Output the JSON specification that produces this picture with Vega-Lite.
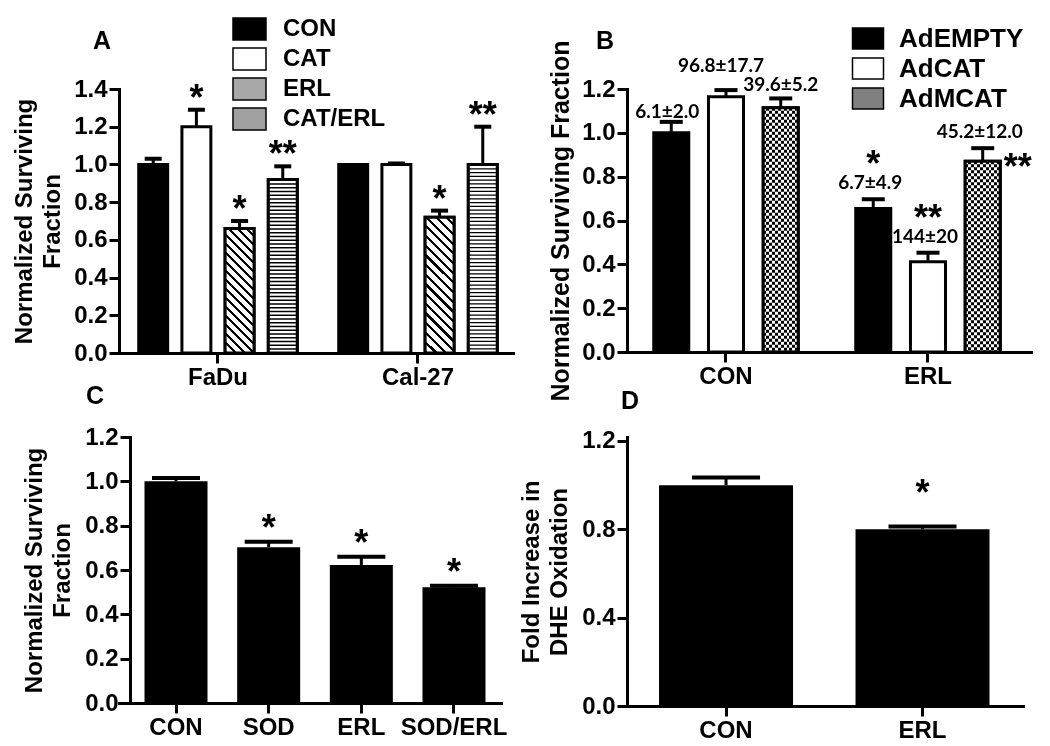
{
 "$schema": "https://vega.github.io/schema/vega-lite/v6.json",
 "background": "white",
 "padding": {"left": 12, "top": 17, "right": 5, "bottom": 2},
 "columns": 2,
 "spacing": {"row": 84, "column": 114},
 "bounds": "flush",
 "resolve": {"scale": {"fill": "independent", "xOffset": "independent", "color": "independent"}, "legend": {"fill": "independent"}},
 "config": {
  "view": {"stroke": null},
  "font": "Liberation Sans",
  "axis": {"domainColor": "#000", "domainWidth": 3, "domainCap": "square", "tickColor": "#000", "tickWidth": 3, "tickSize": 10, "labelFont": "Liberation Sans", "labelFontSize": 24, "labelFontWeight": "bold", "labelColor": "#000", "labelPadding": 2, "titleFont": "Liberation Sans", "titleFontSize": 24, "titleFontWeight": "bold", "titleColor": "#000", "grid": false, "labelOverlap": false, "labelFlush": false},
  "title": {"font": "Liberation Sans", "fontSize": 25, "fontWeight": "bold", "color": "#000", "anchor": "start", "frame": "group", "baseline": "alphabetic"}
 },
 "datasets": {
  "pa": [
   {"cell": "FaDu", "trt": "CON", "v": 1.0, "e": 1.03, "star": ""},
   {"cell": "FaDu", "trt": "CAT", "v": 1.2, "e": 1.29, "star": "*"},
   {"cell": "FaDu", "trt": "ERL", "v": 0.66, "e": 0.70, "star": "*"},
   {"cell": "FaDu", "trt": "CAT/ERL", "v": 0.92, "e": 0.99, "star": "**"},
   {"cell": "Cal-27", "trt": "CON", "v": 1.0, "e": 1.0, "star": ""},
   {"cell": "Cal-27", "trt": "CAT", "v": 1.0, "e": 1.005, "star": ""},
   {"cell": "Cal-27", "trt": "ERL", "v": 0.72, "e": 0.755, "star": "*"},
   {"cell": "Cal-27", "trt": "CAT/ERL", "v": 1.0, "e": 1.2, "star": "**"}
  ],
  "pb": [
   {"grp": "CON", "vec": "AdEMPTY", "v": 1.0, "e": 1.05, "lab": "6.1±2.0", "star": ""},
   {"grp": "CON", "vec": "AdCAT", "v": 1.165, "e": 1.195, "lab": "96.8±17.7", "star": ""},
   {"grp": "CON", "vec": "AdMCAT", "v": 1.115, "e": 1.157, "lab": "39.6±5.2", "star": ""},
   {"grp": "ERL", "vec": "AdEMPTY", "v": 0.655, "e": 0.697, "lab": "6.7±4.9", "star": "*"},
   {"grp": "ERL", "vec": "AdCAT", "v": 0.412, "e": 0.453, "lab": "144±20", "star": "**"},
   {"grp": "ERL", "vec": "AdMCAT", "v": 0.87, "e": 0.93, "lab": "45.2±12.0", "star": "**"}
  ],
  "pc": [
   {"t": "CON", "v": 1.0, "e": 1.015, "star": ""},
   {"t": "SOD", "v": 0.703, "e": 0.727, "star": "*"},
   {"t": "ERL", "v": 0.622, "e": 0.66, "star": "*"},
   {"t": "SOD/ERL", "v": 0.522, "e": 0.529, "star": "*"}
  ],
  "pd": [
   {"t": "CON", "v": 1.0, "e": 1.035, "star": ""},
   {"t": "ERL", "v": 0.8, "e": 0.813, "star": "*"}
  ]
 },
 "concat": [
  {
   "width": 394, "height": 264,
   "title": {"text": "A", "dx": -26, "offset": -37},
   "data": {"name": "pa"},
   "encoding": {
    "x": {"field": "cell", "type": "nominal", "scale": {"domain": ["FaDu", "Cal-27"], "paddingInner": 0.2075, "paddingOuter": 0.08875, "align": 0.556}, "axis": {"title": null, "labelAngle": 0}},
    "xOffset": {"field": "trt", "type": "nominal", "scale": {"domain": ["CON", "CAT", "ERL", "CAT/ERL"], "paddingInner": 0.33, "paddingOuter": 0}},
    "y": {"field": "v", "type": "quantitative", "stack": null, "scale": {"domain": [0, 1.4], "nice": false}, "axis": {"values": [0, 0.2, 0.4, 0.6, 0.8, 1, 1.2, 1.4], "format": ".1f", "title": ["Normalized Surviving", "Fraction"], "titleLineHeight": 28, "titlePadding": 9}}
   },
   "layer": [
    {"mark": {"type": "bar", "stroke": "#000", "strokeWidth": 3},
     "encoding": {"fill": {"field": "trt", "type": "nominal", "scale": {"domain": ["CON", "CAT", "ERL", "CAT/ERL"], "range": ["#000", "#fff", "#a8a8a8", "#a0a0a0"]},
       "legend": {"orient": "none", "legendX": 118.5, "legendY": -72, "title": null, "symbolType": "M-1.5,-1H1.5V1H-1.5Z", "symbolSize": 484, "labelFont": "Liberation Sans", "labelFontSize": 24, "labelFontWeight": "bold", "labelColor": "#000", "labelOffset": 21.5, "rowPadding": 2, "padding": 0, "labelLimit": 300}}}},
    {"transform": [{"filter": "datum.trt === 'CAT/ERL'"}],
     "mark": {"type": "bar", "strokeWidth": 0, "fill": "#fff"}},
    {"transform": [{"filter": "datum.trt === 'ERL' && datum.cell === 'FaDu'"}],
     "mark": {"type": "bar", "strokeWidth": 0, "fill": {"gradient": "linear", "x1": 0, "y1": 1, "x2": 0.2711, "y2": -0.169, "stops": [
      {"offset": 0, "color": "#000"}, {"offset": 0.0194, "color": "#000"}, {"offset": 0.0194, "color": "#fff"}, {"offset": 0.0588, "color": "#fff"},
      {"offset": 0.0588, "color": "#000"}, {"offset": 0.0782, "color": "#000"}, {"offset": 0.0782, "color": "#fff"}, {"offset": 0.1176, "color": "#fff"},
      {"offset": 0.1176, "color": "#000"}, {"offset": 0.1371, "color": "#000"}, {"offset": 0.1371, "color": "#fff"}, {"offset": 0.1765, "color": "#fff"},
      {"offset": 0.1765, "color": "#000"}, {"offset": 0.1959, "color": "#000"}, {"offset": 0.1959, "color": "#fff"}, {"offset": 0.2353, "color": "#fff"},
      {"offset": 0.2353, "color": "#000"}, {"offset": 0.2547, "color": "#000"}, {"offset": 0.2547, "color": "#fff"}, {"offset": 0.2941, "color": "#fff"},
      {"offset": 0.2941, "color": "#000"}, {"offset": 0.3135, "color": "#000"}, {"offset": 0.3135, "color": "#fff"}, {"offset": 0.3529, "color": "#fff"},
      {"offset": 0.3529, "color": "#000"}, {"offset": 0.3724, "color": "#000"}, {"offset": 0.3724, "color": "#fff"}, {"offset": 0.4118, "color": "#fff"},
      {"offset": 0.4118, "color": "#000"}, {"offset": 0.4312, "color": "#000"}, {"offset": 0.4312, "color": "#fff"}, {"offset": 0.4706, "color": "#fff"},
      {"offset": 0.4706, "color": "#000"}, {"offset": 0.49, "color": "#000"}, {"offset": 0.49, "color": "#fff"}, {"offset": 0.5294, "color": "#fff"},
      {"offset": 0.5294, "color": "#000"}, {"offset": 0.5488, "color": "#000"}, {"offset": 0.5488, "color": "#fff"}, {"offset": 0.5882, "color": "#fff"},
      {"offset": 0.5882, "color": "#000"}, {"offset": 0.6076, "color": "#000"}, {"offset": 0.6076, "color": "#fff"}, {"offset": 0.6471, "color": "#fff"},
      {"offset": 0.6471, "color": "#000"}, {"offset": 0.6665, "color": "#000"}, {"offset": 0.6665, "color": "#fff"}, {"offset": 0.7059, "color": "#fff"},
      {"offset": 0.7059, "color": "#000"}, {"offset": 0.7253, "color": "#000"}, {"offset": 0.7253, "color": "#fff"}, {"offset": 0.7647, "color": "#fff"},
      {"offset": 0.7647, "color": "#000"}, {"offset": 0.7841, "color": "#000"}, {"offset": 0.7841, "color": "#fff"}, {"offset": 0.8235, "color": "#fff"},
      {"offset": 0.8235, "color": "#000"}, {"offset": 0.8429, "color": "#000"}, {"offset": 0.8429, "color": "#fff"}, {"offset": 0.8824, "color": "#fff"},
      {"offset": 0.8824, "color": "#000"}, {"offset": 0.9018, "color": "#000"}, {"offset": 0.9018, "color": "#fff"}, {"offset": 0.9412, "color": "#fff"},
      {"offset": 0.9412, "color": "#000"}, {"offset": 0.9606, "color": "#000"}, {"offset": 0.9606, "color": "#fff"}, {"offset": 1, "color": "#fff"}]}}},
    {"transform": [{"filter": "datum.trt === 'ERL' && datum.cell === 'Cal-27'"}],
     "mark": {"type": "bar", "strokeWidth": 0, "fill": {"gradient": "linear", "x1": 0, "y1": 1, "x2": 0.2469, "y2": -0.1603, "stops": [
      {"offset": 0, "color": "#000"}, {"offset": 0.0194, "color": "#000"}, {"offset": 0.0194, "color": "#fff"}, {"offset": 0.0588, "color": "#fff"},
      {"offset": 0.0588, "color": "#000"}, {"offset": 0.0782, "color": "#000"}, {"offset": 0.0782, "color": "#fff"}, {"offset": 0.1176, "color": "#fff"},
      {"offset": 0.1176, "color": "#000"}, {"offset": 0.1371, "color": "#000"}, {"offset": 0.1371, "color": "#fff"}, {"offset": 0.1765, "color": "#fff"},
      {"offset": 0.1765, "color": "#000"}, {"offset": 0.1959, "color": "#000"}, {"offset": 0.1959, "color": "#fff"}, {"offset": 0.2353, "color": "#fff"},
      {"offset": 0.2353, "color": "#000"}, {"offset": 0.2547, "color": "#000"}, {"offset": 0.2547, "color": "#fff"}, {"offset": 0.2941, "color": "#fff"},
      {"offset": 0.2941, "color": "#000"}, {"offset": 0.3135, "color": "#000"}, {"offset": 0.3135, "color": "#fff"}, {"offset": 0.3529, "color": "#fff"},
      {"offset": 0.3529, "color": "#000"}, {"offset": 0.3724, "color": "#000"}, {"offset": 0.3724, "color": "#fff"}, {"offset": 0.4118, "color": "#fff"},
      {"offset": 0.4118, "color": "#000"}, {"offset": 0.4312, "color": "#000"}, {"offset": 0.4312, "color": "#fff"}, {"offset": 0.4706, "color": "#fff"},
      {"offset": 0.4706, "color": "#000"}, {"offset": 0.49, "color": "#000"}, {"offset": 0.49, "color": "#fff"}, {"offset": 0.5294, "color": "#fff"},
      {"offset": 0.5294, "color": "#000"}, {"offset": 0.5488, "color": "#000"}, {"offset": 0.5488, "color": "#fff"}, {"offset": 0.5882, "color": "#fff"},
      {"offset": 0.5882, "color": "#000"}, {"offset": 0.6076, "color": "#000"}, {"offset": 0.6076, "color": "#fff"}, {"offset": 0.6471, "color": "#fff"},
      {"offset": 0.6471, "color": "#000"}, {"offset": 0.6665, "color": "#000"}, {"offset": 0.6665, "color": "#fff"}, {"offset": 0.7059, "color": "#fff"},
      {"offset": 0.7059, "color": "#000"}, {"offset": 0.7253, "color": "#000"}, {"offset": 0.7253, "color": "#fff"}, {"offset": 0.7647, "color": "#fff"},
      {"offset": 0.7647, "color": "#000"}, {"offset": 0.7841, "color": "#000"}, {"offset": 0.7841, "color": "#fff"}, {"offset": 0.8235, "color": "#fff"},
      {"offset": 0.8235, "color": "#000"}, {"offset": 0.8429, "color": "#000"}, {"offset": 0.8429, "color": "#fff"}, {"offset": 0.8824, "color": "#fff"},
      {"offset": 0.8824, "color": "#000"}, {"offset": 0.9018, "color": "#000"}, {"offset": 0.9018, "color": "#fff"}, {"offset": 0.9412, "color": "#fff"},
      {"offset": 0.9412, "color": "#000"}, {"offset": 0.9606, "color": "#000"}, {"offset": 0.9606, "color": "#fff"}, {"offset": 1, "color": "#fff"}]}}},
    {"transform": [{"filter": "datum.trt === 'CAT/ERL'"}],
     "mark": {"type": "rule", "color": "#000", "strokeWidth": 29, "strokeDash": [1.4, 2.35]},
     "encoding": {"y2": {"datum": 0}}},
    {"transform": [{"filter": "datum.trt === 'ERL' || datum.trt === 'CAT/ERL'"}],
     "mark": {"type": "bar", "fill": "transparent", "stroke": "#000", "strokeWidth": 3}},
    {"transform": [{"filter": "datum.e > datum.v"}],
     "mark": {"type": "rule", "color": "#000", "strokeWidth": 3},
     "encoding": {"y2": {"field": "e"}}},
    {"transform": [{"filter": "datum.e > datum.v"}],
     "mark": {"type": "tick", "color": "#000", "thickness": 4, "size": 17, "orient": "horizontal", "opacity": 1},
     "encoding": {"y": {"field": "e", "type": "quantitative"}}},
    {"transform": [{"filter": "datum.star !== ''"}],
     "mark": {"type": "text", "font": "Liberation Sans", "fontSize": 36, "fontWeight": "bold", "baseline": "alphabetic", "color": "#000", "dy": 0},
     "encoding": {"y": {"field": "e", "type": "quantitative"}, "text": {"field": "star"}}}
   ]
  },
  {
   "width": 404, "height": 263,
   "title": {"text": "B", "dx": -31, "offset": -28.5},
   "data": {"name": "pb"},
   "encoding": {
    "x": {"field": "grp", "type": "nominal", "scale": {"domain": ["CON", "ERL"], "paddingInner": 0.2847, "paddingOuter": 0.1424, "align": 0.465}, "axis": {"title": null, "labelAngle": 0}},
    "xOffset": {"field": "vec", "type": "nominal", "scale": {"domain": ["AdEMPTY", "AdCAT", "AdMCAT"], "paddingInner": 0.36, "paddingOuter": 0}},
    "y": {"field": "v", "type": "quantitative", "stack": null, "scale": {"domain": [0, 1.2], "nice": false}, "axis": {"values": [0, 0.2, 0.4, 0.6, 0.8, 1, 1.2], "format": ".1f", "title": "Normalized Surviving Fraction", "titleFontSize": 25, "titlePadding": 8}}
   },
   "layer": [
    {"mark": {"type": "bar", "stroke": "#000", "strokeWidth": 3},
     "encoding": {"fill": {"field": "vec", "type": "nominal", "scale": {"domain": ["AdEMPTY", "AdCAT", "AdMCAT"], "range": ["#000", "#fff", "#808080"]},
       "legend": {"orient": "none", "legendX": 228, "legendY": -63.5, "title": null, "symbolType": "M-1.476,-1H1.476V1H-1.476Z", "symbolSize": 441, "labelFont": "Liberation Sans", "labelFontSize": 26, "labelFontWeight": "bold", "labelColor": "#000", "labelOffset": 18, "rowPadding": 2, "padding": 0, "labelLimit": 300}}}},
    {"transform": [{"filter": "datum.vec === 'AdMCAT'"}],
     "mark": {"type": "bar", "strokeWidth": 0, "fill": {"gradient": "linear", "x1": 0, "y1": 0, "x2": 1, "y2": 0, "stops": [
      {"offset": 0, "color": "#000"}, {"offset": 0.0833, "color": "#000"}, {"offset": 0.0833, "color": "#fff"}, {"offset": 0.1667, "color": "#fff"},
      {"offset": 0.1667, "color": "#000"}, {"offset": 0.25, "color": "#000"}, {"offset": 0.25, "color": "#fff"}, {"offset": 0.3333, "color": "#fff"},
      {"offset": 0.3333, "color": "#000"}, {"offset": 0.4167, "color": "#000"}, {"offset": 0.4167, "color": "#fff"}, {"offset": 0.5, "color": "#fff"},
      {"offset": 0.5, "color": "#000"}, {"offset": 0.5833, "color": "#000"}, {"offset": 0.5833, "color": "#fff"}, {"offset": 0.6667, "color": "#fff"},
      {"offset": 0.6667, "color": "#000"}, {"offset": 0.75, "color": "#000"}, {"offset": 0.75, "color": "#fff"}, {"offset": 0.8333, "color": "#fff"},
      {"offset": 0.8333, "color": "#000"}, {"offset": 0.9167, "color": "#000"}, {"offset": 0.9167, "color": "#fff"}, {"offset": 1, "color": "#fff"}]}}},
    {"transform": [{"filter": "datum.vec === 'AdMCAT'"}],
     "mark": {"type": "rule", "color": "#fff", "strokeWidth": 35, "strokeDash": [3, 3], "blend": "difference"},
     "encoding": {"y2": {"datum": 0}}},
    {"transform": [{"filter": "datum.vec === 'AdMCAT'"}],
     "mark": {"type": "bar", "fill": "transparent", "stroke": "#000", "strokeWidth": 3}},
    {"transform": [{"filter": "datum.e > datum.v"}],
     "mark": {"type": "rule", "color": "#000", "strokeWidth": 3},
     "encoding": {"y2": {"field": "e"}}},
    {"transform": [{"filter": "datum.e > datum.v"}],
     "mark": {"type": "tick", "color": "#000", "thickness": 4, "size": 23, "orient": "horizontal", "opacity": 1},
     "encoding": {"y": {"field": "e", "type": "quantitative"}}},
    {"transform": [{"filter": "datum.grp === 'ERL'"}],
     "mark": {"type": "text", "font": "Lato", "fontSize": 19, "fontWeight": "bold", "baseline": "alphabetic", "color": "#000", "dy": -10, "dx": -3},
     "encoding": {"y": {"field": "e", "type": "quantitative"}, "text": {"field": "lab"}}},
    {"transform": [{"filter": "datum.grp === 'CON' && datum.vec === 'AdEMPTY'"}],
     "mark": {"type": "text", "font": "Lato", "fontSize": 19, "fontWeight": "bold", "baseline": "alphabetic", "color": "#000", "dy": -4, "dx": -4},
     "encoding": {"y": {"field": "e", "type": "quantitative"}, "text": {"field": "lab"}}},
    {"transform": [{"filter": "datum.grp === 'CON' && datum.vec === 'AdCAT'"}],
     "mark": {"type": "text", "font": "Lato", "fontSize": 19, "fontWeight": "bold", "baseline": "alphabetic", "color": "#000", "dy": -18, "dx": -5},
     "encoding": {"y": {"field": "e", "type": "quantitative"}, "text": {"field": "lab"}}},
    {"transform": [{"filter": "datum.grp === 'CON' && datum.vec === 'AdMCAT'"}],
     "mark": {"type": "text", "font": "Lato", "fontSize": 19, "fontWeight": "bold", "baseline": "alphabetic", "color": "#000", "dy": -7, "dx": 0},
     "encoding": {"y": {"field": "e", "type": "quantitative"}, "text": {"field": "lab"}}},
    {"transform": [{"filter": "datum.star !== '' && datum.vec !== 'AdMCAT'"}],
     "mark": {"type": "text", "font": "Liberation Sans", "fontSize": 36, "fontWeight": "bold", "baseline": "alphabetic", "color": "#000", "dy": -23},
     "encoding": {"y": {"field": "e", "type": "quantitative"}, "text": {"field": "star"}}},
    {"transform": [{"filter": "datum.star !== '' && datum.vec === 'AdMCAT'"}],
     "mark": {"type": "text", "font": "Liberation Sans", "fontSize": 36, "fontWeight": "bold", "baseline": "alphabetic", "color": "#000", "dy": 18, "dx": 35},
     "encoding": {"text": {"field": "star"}}}
   ]
  },
  {
   "width": 382, "height": 266,
   "title": {"text": "C", "dx": -33, "offset": 16},
   "data": {"name": "pc"},
   "encoding": {
    "x": {"field": "t", "type": "nominal", "scale": {"domain": ["CON", "SOD", "ERL", "SOD/ERL"], "paddingInner": 0.32, "paddingOuter": 0.2212, "align": 0.622}, "axis": {"title": null, "labelAngle": 0}},
    "y": {"field": "v", "type": "quantitative", "scale": {"domain": [0, 1.2], "nice": false}, "axis": {"values": [0, 0.2, 0.4, 0.6, 0.8, 1, 1.2], "format": ".1f", "offset": -11, "title": ["Normalized Surviving", "Fraction"], "titleLineHeight": 28, "titlePadding": 10}}
   },
   "layer": [
    {"mark": {"type": "bar", "color": "#000"}},
    {"transform": [{"filter": "datum.e > datum.v"}],
     "mark": {"type": "rule", "color": "#000", "strokeWidth": 3},
     "encoding": {"y2": {"field": "e"}}},
    {"transform": [{"filter": "datum.e > datum.v"}],
     "mark": {"type": "tick", "color": "#000", "thickness": 4, "size": 48, "orient": "horizontal", "opacity": 1},
     "encoding": {"y": {"field": "e", "type": "quantitative"}}},
    {"transform": [{"filter": "datum.star !== ''"}],
     "mark": {"type": "text", "font": "Liberation Sans", "fontSize": 36, "fontWeight": "bold", "baseline": "alphabetic", "color": "#000", "dy": -2},
     "encoding": {"y": {"field": "e", "type": "quantitative"}, "text": {"field": "star"}}}
   ]
  },
  {
   "width": 396, "height": 269,
   "title": {"text": "D", "dx": -6, "offset": 15},
   "data": {"name": "pd"},
   "encoding": {
    "x": {"field": "t", "type": "nominal", "scale": {"domain": ["CON", "ERL"], "paddingInner": 0.318, "paddingOuter": 0.1667, "align": 0.489}, "axis": {"title": null, "labelAngle": 0}},
    "y": {"field": "v", "type": "quantitative", "scale": {"domain": [0, 1.218], "nice": false}, "axis": {"values": [0, 0.4, 0.8, 1.2], "format": ".1f", "title": ["Fold Increase in", "DHE Oxidation"], "titleLineHeight": 28, "titlePadding": 10}}
   },
   "layer": [
    {"mark": {"type": "bar", "color": "#000"}},
    {"transform": [{"filter": "datum.e > datum.v"}],
     "mark": {"type": "rule", "color": "#000", "strokeWidth": 3},
     "encoding": {"y2": {"field": "e"}}},
    {"transform": [{"filter": "datum.e > datum.v"}],
     "mark": {"type": "tick", "color": "#000", "thickness": 4, "size": 68, "orient": "horizontal", "opacity": 1},
     "encoding": {"y": {"field": "e", "type": "quantitative"}}},
    {"transform": [{"filter": "datum.star !== ''"}],
     "mark": {"type": "text", "font": "Liberation Sans", "fontSize": 36, "fontWeight": "bold", "baseline": "alphabetic", "color": "#000", "dy": -21},
     "encoding": {"y": {"field": "e", "type": "quantitative"}, "text": {"field": "star"}}}
   ]
  }
 ]
}
